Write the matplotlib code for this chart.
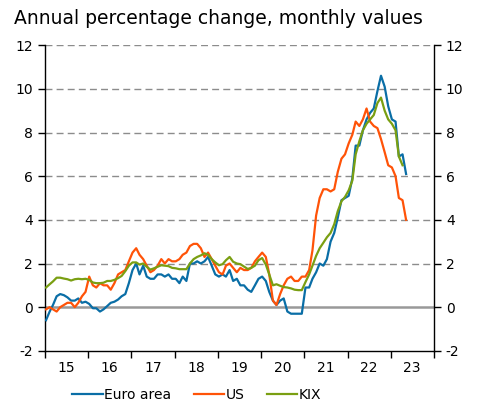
import numpy as np
import pandas as pd
import matplotlib
matplotlib.use('Agg')
import matplotlib.pyplot as plt
import matplotlib.dates as mdates

plt.rcParams['axes.unicode_minus'] = False

# Annual percentage change, monthly values (Jan 2015 onwards)
euro_area = [
    -0.6, -0.2, 0.1, 0.5, 0.6, 0.55, 0.45, 0.3, 0.3, 0.4, 0.2, 0.25,
    0.15, -0.05, -0.05, -0.2, -0.1, 0.05, 0.2, 0.25, 0.35, 0.5, 0.6, 1.1,
    1.7, 2.0, 1.5, 1.9, 1.4, 1.3, 1.3, 1.5, 1.5, 1.4, 1.5, 1.3,
    1.3, 1.1, 1.4, 1.2, 2.0, 2.0, 2.1, 2.0, 2.1, 2.3, 1.9, 1.5,
    1.4, 1.5, 1.4, 1.7, 1.2, 1.3, 1.0, 1.0, 0.8, 0.7, 1.0, 1.3,
    1.4, 1.2, 0.7, 0.3, 0.1, 0.3, 0.4, -0.2, -0.3, -0.3, -0.3, -0.3,
    0.9, 0.9, 1.3, 1.6, 2.0, 1.9, 2.2, 3.0, 3.4, 4.1, 4.9, 5.0,
    5.1, 5.9, 7.4, 7.4, 8.1, 8.6, 8.9, 9.1, 9.9, 10.6, 10.1, 9.2,
    8.6, 8.5, 6.9, 7.0, 6.1,
]
us = [
    -0.1, 0.0, -0.1, -0.2, 0.0, 0.1, 0.2, 0.2, 0.0, 0.2, 0.5, 0.7,
    1.4, 1.0, 0.9, 1.1, 1.0, 1.0, 0.8, 1.1, 1.5, 1.6, 1.7, 2.1,
    2.5, 2.7, 2.4, 2.2, 1.9, 1.6, 1.7, 1.9, 2.2, 2.0, 2.2, 2.1,
    2.1, 2.2, 2.4, 2.5, 2.8, 2.9, 2.9, 2.7, 2.3, 2.5, 2.2, 1.9,
    1.6, 1.5, 1.9, 2.0, 1.8, 1.6, 1.8, 1.7, 1.7, 1.8, 2.1, 2.3,
    2.5, 2.3, 1.5, 0.3, 0.1, 0.6, 1.0, 1.3, 1.4, 1.2, 1.2, 1.4,
    1.4, 1.7, 2.6, 4.2, 5.0, 5.4, 5.4, 5.3, 5.4, 6.2, 6.8, 7.0,
    7.5, 7.9, 8.5, 8.3, 8.6, 9.1, 8.5, 8.3, 8.2, 7.7, 7.1, 6.5,
    6.4, 6.0, 5.0, 4.9, 4.0,
]
kix = [
    0.9, 1.05, 1.18, 1.35, 1.35, 1.31, 1.28, 1.22, 1.28, 1.3, 1.28, 1.3,
    1.25, 1.13, 1.1, 1.1, 1.12, 1.2, 1.2, 1.25, 1.33, 1.43, 1.65, 1.9,
    2.05, 2.05, 1.95, 2.0, 1.85, 1.72, 1.78, 1.85, 1.92, 1.9, 1.88, 1.8,
    1.78, 1.74, 1.74, 1.74, 2.0, 2.2, 2.3, 2.37, 2.47, 2.4, 2.2, 2.05,
    1.92, 1.97, 2.15, 2.3, 2.08, 2.0, 1.97, 1.86, 1.75, 1.8, 1.9, 2.15,
    2.25, 1.95, 1.5, 1.0, 1.05, 0.98, 0.92, 0.9, 0.86, 0.8, 0.78, 0.78,
    1.15, 1.5, 1.9, 2.35, 2.7, 2.95, 3.2, 3.4, 3.8, 4.4, 4.85, 5.05,
    5.35, 5.8, 7.0, 7.6, 8.1, 8.4, 8.6, 8.8, 9.35, 9.6, 9.0, 8.6,
    8.4, 8.1, 6.9, 6.5,
]

series = [('Euro area', euro_area, '#0a6ea6'),
          ('US', us, '#ff5308'),
          ('KIX', kix, '#7a9f12')]

fig = plt.figure(figsize=(4.78, 4.07), dpi=100)
ax = fig.add_axes([0.094, 0.138, 0.814, 0.751])

# gridlines
for y in range(2, 13, 2):
    ax.axhline(y, color='#8c8c8c', lw=1.0, ls=(0, (5, 3)), zorder=1)
ax.axhline(0, color='#999999', lw=1.8, zorder=1)

for name, vals, col in series:
    dates = pd.date_range('2015-01-01', periods=len(vals), freq='MS') + pd.Timedelta(days=9)
    ax.plot(dates, vals, color=col, lw=1.6, label=name, zorder=3)

ax.set_xlim(pd.Timestamp('2015-01-01'), pd.Timestamp('2024-01-01'))
ax.set_ylim(-2, 12)
ax.set_yticks(range(-2, 13, 2))

ax.xaxis.set_major_locator(mdates.YearLocator())
ax.xaxis.set_major_formatter(plt.NullFormatter())
ax.xaxis.set_minor_locator(mdates.MonthLocator(bymonth=7, bymonthday=1))
ax.xaxis.set_minor_formatter(mdates.DateFormatter('%y'))
ax.tick_params(axis='x', which='major', length=5, width=1, direction='out')
ax.tick_params(axis='x', which='minor', length=0, labelsize=10, pad=7)
ax.tick_params(axis='y', which='major', length=5, width=1, direction='out',
               labelsize=10, left=True, right=True, labelleft=True, labelright=True)

ax.spines['top'].set_visible(False)
for s in ['left', 'right', 'bottom']:
    ax.spines[s].set_linewidth(1.0)
    ax.spines[s].set_color('black')

fig.text(0.029, 0.955, 'Annual percentage change, monthly values', fontsize=13.5, va='center')

fig.legend(loc='lower left', bbox_to_anchor=(0.125, -0.018), ncol=3, frameon=False,
           fontsize=10, handlelength=2.2, handletextpad=0.1, columnspacing=1.6)

fig.savefig('out.png', dpi=100)
